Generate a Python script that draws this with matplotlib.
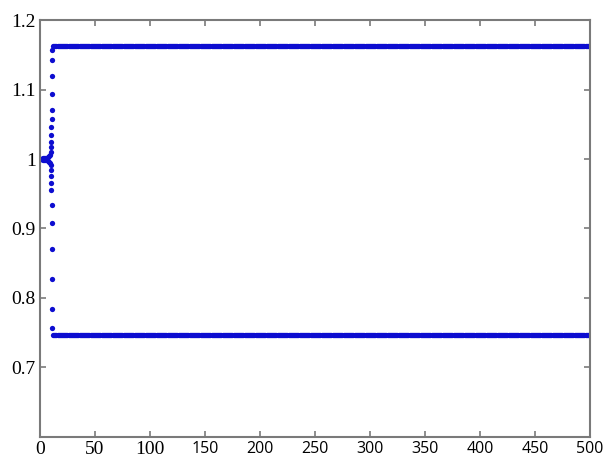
import numpy as np
import matplotlib.pyplot as plt

# transient part (x position, value)
x_start = [0, 1, 2, 3, 4, 5, 6, 7, 8, 9]
upper_start = [1.000, 1.000, 1.000, 1.001, 1.001, 1.002, 1.002, 1.003, 1.004, 1.006]
lower_start = [1.000, 1.000, 1.000, 0.999, 0.999, 0.998, 0.998, 0.997, 0.996, 0.994]

x_upper_col = [9.6, 9.9, 10.1, 10.3, 10.4, 10.5, 10.6, 10.6, 10.7, 10.8, 11.0]
upper_col = [1.010, 1.017, 1.025, 1.035, 1.046, 1.057, 1.070, 1.093, 1.119, 1.142, 1.157]

x_lower_col = [9.6, 9.9, 10.1, 10.3, 10.4, 10.5, 10.6, 10.6, 10.7, 10.8, 11.0]
lower_col = [0.991, 0.984, 0.975, 0.966, 0.955, 0.934, 0.908, 0.871, 0.828, 0.784, 0.757]

# steady state levels after the split
upper_level = 1.163
lower_level = 0.747
x_tail = np.arange(12, 501)

xticks = [0, 50, 100, 150, 200, 250, 300, 350, 400, 450, 500]
yticks = [0.7, 0.8, 0.9, 1.0, 1.1, 1.2]
ytick_labels = ['0.7', '0.8', '0.9', '1', '1.1', '1.2']

DOT = '#0d0dd0'
AXIS_GREY = '#7a7a7a'

fig = plt.figure(figsize=(6.03, 4.58), dpi=100)
ax = fig.add_axes([0.0663, 0.0459, 0.9121, 0.9104])

xs = np.concatenate([x_start, x_upper_col, x_tail, x_start, x_lower_col, x_tail])
ys = np.concatenate([upper_start, upper_col, np.full(len(x_tail), upper_level),
                     lower_start, lower_col, np.full(len(x_tail), lower_level)])
ax.plot(xs, ys, linestyle='none', marker='o', markersize=3.8,
        markerfacecolor=DOT, markeredgecolor=DOT, markeredgewidth=0)

ax.set_xlim(0, 500)
ax.set_ylim(0.6, 1.2)
ax.set_xticks(xticks)
ax.set_yticks(yticks)
ax.set_yticklabels(ytick_labels)

for s in ax.spines.values():
    s.set_color(AXIS_GREY)
    s.set_linewidth(1.5)

ax.tick_params(direction='in', length=4, width=1.2, color=AXIS_GREY,
               top=True, right=True, labelsize=14, pad=3)

# the original mixes a serif and a sans face on the tick labels
for lab in ax.get_yticklabels():
    lab.set_fontfamily('Liberation Serif')
for lab in ax.get_xticklabels():
    if lab.get_text() in ('0', '50', '100'):
        lab.set_fontfamily('Liberation Serif')
    else:
        lab.set_fontfamily('Open Sans')
        lab.set_fontsize(11.5)

fig.savefig('out.png', dpi=100, facecolor='white')
